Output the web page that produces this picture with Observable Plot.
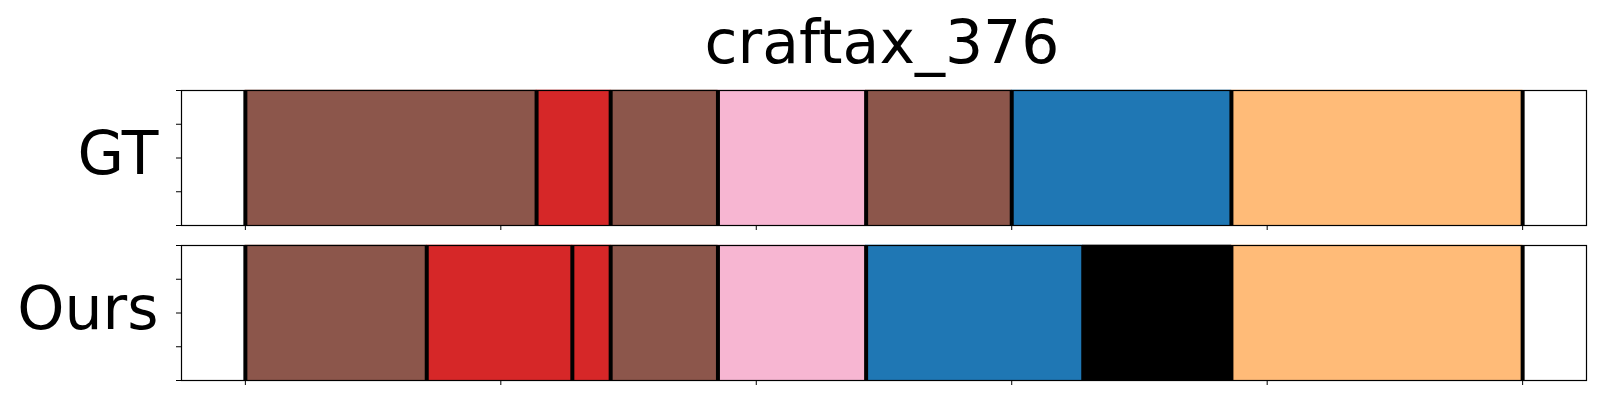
<!DOCTYPE html>
<html>
<head>
<meta charset="utf-8">
<script src="https://cdn.jsdelivr.net/npm/d3@7"></script>
<script src="https://cdn.jsdelivr.net/npm/@observablehq/plot@0.6"></script>
<style>
  html, body { margin: 0; padding: 0; background: #fff; }
  #chart svg { display: block; }
</style>
</head>
<body>
<div id="chart"></div>
<script>
// ---- data ----
const title = "craftax_376";
const rowLabels = ["GT", "Ours"];

const gtBounds = [0, 114, 143, 185, 243, 300, 386, 500];
const gtClasses = ["seg_brown", "seg_red", "seg_brown", "seg_pink", "seg_brown", "seg_blue", "seg_orange"];

const oursBounds = [0, 71, 128, 143, 185, 243, 328, 386, 500];
const oursClasses = ["seg_brown", "seg_red", "seg_red", "seg_brown", "seg_pink", "seg_blue", "seg_black", "seg_orange"];

const classNames = ["seg_brown", "seg_red", "seg_pink", "seg_blue", "seg_orange", "seg_black"];
const classColors = ["#8c564b", "#d62728", "#f7b6d2", "#1f77b4", "#ffbb78", "#000000"];

const xTicks = [0, 100, 200, 300, 400, 500];
const yTicks = [0, 0.25, 0.5, 0.75, 1];

// ---- build ----
function segs(bounds, classes) {
  return classes.map((c, i) => ({x1: bounds[i], x2: bounds[i + 1], cls: c}));
}

const font = "'DejaVu Sans', sans-serif";

function panel(label, bounds, classes, opts) {
  const marks = [
    Plot.rect(segs(bounds, classes), {x1: "x1", x2: "x2", y1: 0, y2: 1, fill: "cls", stroke: "cls", strokeWidth: 0.6}),
    Plot.ruleX(bounds, {x: d => d, stroke: "black", strokeWidth: 4}),
    Plot.frame({stroke: "black", strokeWidth: 1.2}),
    Plot.text([label], {text: d => d, frameAnchor: "left", lineAnchor: "middle", textAnchor: "end", dx: -23, dy: -3,
      fontSize: 60, fill: "black", fontFamily: font})
  ];
  if (opts.title) {
    marks.push(Plot.text([opts.title], {text: d => d, frameAnchor: "top", lineAnchor: "middle", textAnchor: "middle",
      dx: -2, dy: -47, fontSize: 60, fill: "black", fontFamily: font}));
  }
  return Plot.plot({
    width: 1600,
    height: opts.height,
    marginTop: opts.marginTop,
    marginBottom: opts.marginBottom,
    marginLeft: 181,
    marginRight: 14,
    style: {fontFamily: font, background: "white", overflow: "visible"},
    x: {domain: [-25, 525], ticks: xTicks, tickFormat: () => "", tickSize: 5, label: null},
    y: {domain: [0, 1], ticks: yTicks, tickFormat: () => "", tickSize: 5, label: null},
    color: {type: "ordinal", domain: classNames, range: classColors},
    marks
  });
}

const chart = document.getElementById("chart");
chart.appendChild(panel(rowLabels[0], gtBounds, gtClasses, {height: 235, marginTop: 90, marginBottom: 10, title}));
chart.appendChild(panel(rowLabels[1], oursBounds, oursClasses, {height: 165, marginTop: 10, marginBottom: 20}));
</script>
</body>
</html>
